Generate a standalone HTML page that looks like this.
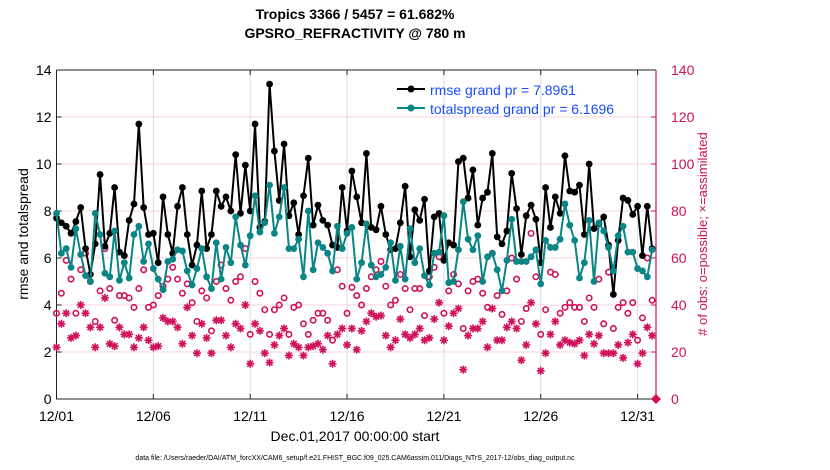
<!DOCTYPE html>
<html><head><meta charset="utf-8"><style>
html,body{margin:0;padding:0;background:#fff;}
svg{display:block;font-family:"Liberation Sans",sans-serif;}
</style></head><body>
<svg id="chart" width="830" height="470" viewBox="0 0 830 470" xmlns="http://www.w3.org/2000/svg">
<text x="355" y="19" text-anchor="middle" font-size="14" font-weight="bold">Tropics 3366 / 5457 = 61.682%</text>
<text x="355" y="38" text-anchor="middle" font-size="14" font-weight="bold">GPSRO_REFRACTIVITY @ 780 m</text>
<g id="grid"></g><g id="axes"></g><g id="marks"></g>
<text transform="translate(28,234) rotate(-90)" text-anchor="middle" font-size="14">rmse and totalspread</text>
<text transform="translate(707,234) rotate(-90)" text-anchor="middle" font-size="13" fill="#cc1155"># of obs: o=possible; ×=assimilated</text>
<text x="355" y="441" text-anchor="middle" font-size="14">Dec.01,2017 00:00:00 start</text>
<text x="355" y="460" text-anchor="middle" font-size="7">data file: /Users/raeder/DAI/ATM_forcXX/CAM6_setup/f.e21.FHIST_BGC.f09_025.CAM6assim.011/Diags_NTrS_2017-12/obs_diag_output.nc</text>
<g id="legend">
<line x1="397" y1="89" x2="425" y2="89" stroke="#000" stroke-width="2"/><circle cx="411" cy="89" r="3.5" fill="#000"/>
<text x="430" y="95" font-size="14" fill="#1a4cff">rmse grand pr = 7.8961</text>
<line x1="397" y1="108" x2="425" y2="108" stroke="#0a8585" stroke-width="2"/><circle cx="411" cy="108" r="3.5" fill="#0a8585"/>
<text x="430" y="114" font-size="14" fill="#1a4cff">totalspread grand pr = 6.1696</text>
</g>
</svg>
<script>
const xTickLabels=["12/01","12/06","12/11","12/16","12/21","12/26","12/31"];
const xTickDays=[0,5,10,15,20,25,30];
const yLeftTicks=[0,2,4,6,8,10,12,14];
const yRightTicks=[0,20,40,60,80,100,120,140];
const rmse=[7.7,7.5,7.35,7.05,7.55,8.15,6.4,5.3,6.6,9.55,6.5,7.05,9.0,6.25,6.1,7.6,8.3,11.7,8.15,7.0,7.05,5.8,8.6,7.0,6.2,8.2,9.0,7.0,5.7,6.55,
8.85,6.4,7.0,8.85,8.2,8.6,8.0,10.4,7.9,9.95,8.0,11.7,7.3,7.55,13.4,10.55,8.45,10.85,7.8,8.35,7.0,8.65,10.25,7.4,8.25,7.6,7.4,6.55,6.45,9.0,7.15,
9.7,8.6,7.5,10.45,7.3,7.2,8.2,7.0,6.35,6.4,7.5,9.05,6.05,8.05,7.6,8.5,5.45,7.75,7.9,5.9,6.65,6.55,10.1,10.25,8.55,9.75,7.4,8.55,8.8,10.45,6.9,
6.6,7.15,9.6,8.1,6.15,7.8,8.25,7.65,5.8,9.0,7.3,8.6,7.9,10.35,8.85,8.8,9.1,7.0,10.0,7.25,7.45,7.75,6.55,4.45,6.75,8.55,8.45,7.85,8.2,6.1,8.2,6.4];
const totalspread=[7.9,6.2,6.4,5.6,7.25,6.15,5.25,5.0,7.9,7.0,5.35,5.2,7.15,5.05,5.8,5.15,7.0,7.35,5.85,6.6,5.55,5.1,4.65,5.85,5.95,6.35,6.3,5.45,4.85,5.55,
6.4,5.2,4.7,6.65,5.1,6.45,5.8,7.75,6.55,5.7,6.95,8.65,7.1,7.5,9.1,7.05,7.75,9.0,6.4,6.4,6.8,5.2,8.0,5.5,6.65,6.45,6.2,5.45,7.35,6.4,7.05,
7.3,5.1,5.8,7.45,5.7,5.2,5.3,5.6,6.65,5.05,6.5,5.1,7.25,5.8,6.4,5.25,4.85,6.2,6.25,7.8,4.95,5.0,6.35,8.4,6.8,6.35,6.95,5.0,6.05,6.2,5.5,
4.6,5.9,7.65,5.85,5.85,5.85,6.05,6.35,4.9,6.75,6.45,6.45,6.8,8.3,7.4,6.75,5.15,5.8,7.6,5.0,7.5,7.15,6.45,5.45,6.95,7.35,6.25,6.25,5.55,5.45,5.2,6.35];
const nPossible=[36.5,45,59,51,36.5,55,62,50,33,46,64,47,33.5,44,44,43,39,47,55,39,40,44,48,51,56,51,45,49,41,33,
46,43,29,50,57,47,42,50,52,64,27.5,50,45,38,27.5,38,40,43,27.5,39,40,32,27.5,33.5,36.5,36.5,33.5,25,55,48,36.5,
47.5,44,40,47,52,55,58.5,48,40,42,53,47,38,47,47,35.5,52,56,60.5,36.5,46,53,49,30,46,50,51,45,39,62,44,
36,46,60,51,33,38.5,70.5,52,27.5,38,54,53,36.5,39,41,39,39,33,43,39,51,32,54,30,39,41,36.5,41,25,34.5,60,42];
const nAssim=[22,32,36.5,26,27,40,36.5,30.5,22,30.5,43,23.5,22.5,30.5,27.5,27.5,22,26,30.5,25,22,22.5,34.5,33,33,30.5,23.5,39,27,19.5,
32,26,19.5,33.5,33.5,27,22,32,30,40,15,32,29,19.5,15.5,23,27,30,18.5,23.5,22,18.5,22,22.5,23.5,21,27,15,27.5,30,23,
30,21,29,33,36.5,35,35.5,27,22,25,34,27.5,26,27.5,30,25,26,34,41,25,31,36.5,38.5,12.5,27,30,30,33,22,38.5,25,
25,30.5,33,30,16.5,23,41,32,12,19.5,27.5,33,23,25,24,23.5,25,18.5,27.5,23.5,27,19.5,19.5,19.5,23,17.5,24,27.5,15,19.5,30.5,27];
const stepDays=0.25;
const L=56.5,R=656,T=70,B=399,DAYMAX=30.95;
const X=d=>L+(d/DAYMAX)*(R-L);
const YL=v=>B-(v/14)*(B-T);
const YR=v=>B-(v/140)*(B-T);
const NS="http://www.w3.org/2000/svg";
function mk(parent,tag,attrs){const e=document.createElementNS(NS,tag);for(const k in attrs)e.setAttribute(k,attrs[k]);parent.appendChild(e);return e;}
const grid=document.getElementById('grid'),axes=document.getElementById('axes'),marks=document.getElementById('marks');
const MAG="#d0105a",TEAL="#0a8585";
xTickDays.forEach((d,i)=>{
  const g=mk(grid,'line',{x1:X(d),x2:X(d),y1:T,y2:B,stroke:'#dcdcdc','stroke-width':1});
  
  
  const t=mk(axes,'text',{x:X(d),y:421,'text-anchor':'middle','font-size':14});
  t.textContent=xTickLabels[i];
  
  
  mk(axes,'line',{x1:X(d),x2:X(d),y1:B,y2:B-5,stroke:'#222'});
  mk(axes,'line',{x1:X(d),x2:X(d),y1:T,y2:T+5,stroke:'#222'});
});
yRightTicks.forEach(v=>{
  if(v>0&&v<140){const g=mk(grid,'line',{x1:L,x2:R,y1:YR(v),y2:YR(v),stroke:'#f4d3df','stroke-width':1});
  
  }
  const t=mk(axes,'text',{x:671,y:YR(v)+5,'font-size':14,fill:MAG});
  t.textContent=v;
  
  
  mk(axes,'line',{x1:R,x2:R-5,y1:YR(v),y2:YR(v),stroke:MAG});
});
yLeftTicks.forEach(v=>{
  const t=mk(axes,'text',{x:L-5,y:YL(v)+5,'text-anchor':'end','font-size':14});
  t.textContent=v;
  
  
  mk(axes,'line',{x1:L,x2:L+5,y1:YL(v),y2:YL(v),stroke:'#222'});
});
mk(axes,'path',{d:`M${L},${T}H${R}M${L},${T}V${B}H${R}`,stroke:'#222',fill:'none','stroke-width':1});
mk(axes,'line',{x1:R,x2:R,y1:T,y2:B,stroke:MAG,'stroke-width':1.2});
function star(x,y,s){const g=mk(marks,'g',{stroke:MAG,'stroke-width':1.6});
  
  
  mk(g,'line',{x1:x-s,x2:x+s,y1:y,y2:y});mk(g,'line',{x1:x,x2:x,y1:y-s,y2:y+s});
  const d=s*0.72;mk(g,'line',{x1:x-d,x2:x+d,y1:y-d,y2:y+d});mk(g,'line',{x1:x-d,x2:x+d,y1:y+d,y2:y-d});}
nAssim.forEach((v,i)=>star(X(i*stepDays),YR(v),4));
nPossible.forEach((v,i)=>{const c=mk(marks,'circle',{cx:X(i*stepDays),cy:YR(v),r:2.7,fill:'none',stroke:MAG,'stroke-width':1.6});
  
  });
function series(vals,color,name){
  const p=mk(marks,'polyline',{points:vals.map((v,i)=>X(i*stepDays)+','+YL(v)).join(' '),fill:'none',stroke:color,'stroke-width':2,'stroke-linejoin':'round'});
  
  
  vals.forEach((v,i)=>{const c=mk(marks,'circle',{cx:X(i*stepDays),cy:YL(v),r:3.4,fill:color});
    
    });
}
series(rmse,'#000','rmse');
series(totalspread,TEAL,'totalspread');
const dm=mk(marks,'path',{d:`M${R},${B-5}L${R+5},${B}L${R},${B+5}L${R-5},${B}Z`,fill:MAG});


</script>
</body></html>
